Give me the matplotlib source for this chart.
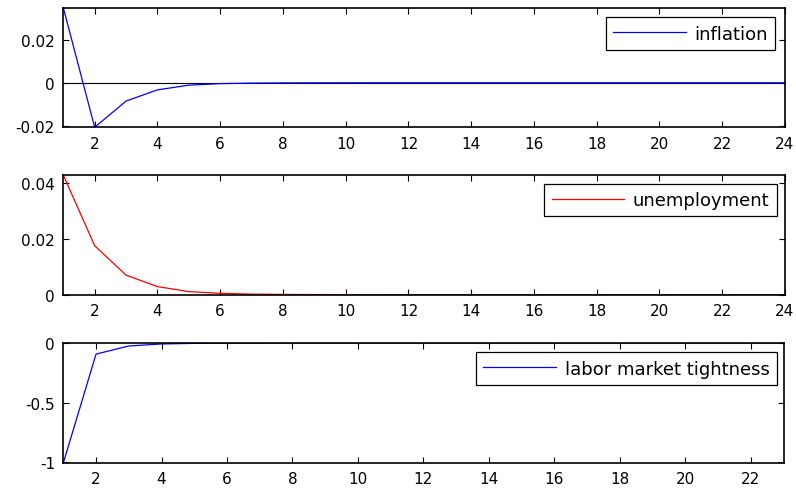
import matplotlib

matplotlib.use("Agg")

import matplotlib.pyplot as plt
import numpy as np

# impulse responses
periods = np.arange(1, 25)
periods_tight = np.arange(1, 24)

inflation = [0.0349, -0.0207, -0.0085, -0.0033, -0.0011, -0.0004, -0.00015, -0.00006,
             -0.00002, -0.00001, 0.0, 0.0, 0.0, 0.0, 0.0, 0.0,
             0.0, 0.0, 0.0, 0.0, 0.0, 0.0, 0.0, 0.0]
unemployment = [0.0428, 0.0175, 0.0070, 0.0029, 0.0011, 0.0005, 0.0002, 0.0001,
                0.00005, 0.00003, 0.00002, 0.00001, 0.00001, 0.00001, 0.00001, 0.00001,
                0.00001, 0.00001, 0.00001, 0.00001, 0.00001, 0.00001, 0.00001, 0.00001]
tightness = [-1.005, -0.093, -0.025, -0.008, -0.003, -0.001, -0.0004, -0.0001,
             -0.00005, -0.00002, -0.00001, 0.0, 0.0, 0.0, 0.0, 0.0,
             0.0, 0.0, 0.0, 0.0, 0.0, 0.0, 0.0]

plt.rcParams["font.family"] = ["DejaVu Sans"]
plt.rcParams["axes.unicode_minus"] = False

W, H = 796, 489
fig = plt.figure(figsize=(W / 100, H / 100), dpi=100)


def make_axes(x0, x1, y0, y1):
    return fig.add_axes([x0 / W, 1 - y1 / H, (x1 - x0) / W, (y1 - y0) / H])


def style(ax, xticks, yticks, yticklabels):
    ax.set_xticks(xticks)
    ax.set_yticks(yticks)
    ax.set_yticklabels(yticklabels)
    ax.tick_params(direction="in", length=4, width=0.8, top=True, right=True,
                   labelsize=11, pad=6, colors="black")
    for sp in ax.spines.values():
        sp.set_linewidth(1.2)
        sp.set_color("black")


def add_legend(ax, anchor):
    leg = ax.legend(loc="upper right", bbox_to_anchor=anchor, borderaxespad=0,
                    fontsize=13, handlelength=4.0, handletextpad=0.5,
                    borderpad=0.4, fancybox=False, framealpha=1,
                    edgecolor="black")
    leg.get_frame().set_linewidth(0.9)


# panel 1: inflation
ax1 = make_axes(63.3, 785, 8.7, 128.3)
ax1.axhline(0, color="black", linewidth=0.8)
ax1.plot(periods, inflation, color="blue", linewidth=0.9, label="inflation")
ax1.set_xlim(1, 24)
ax1.set_ylim(min(inflation), max(inflation))
style(ax1, np.arange(2, 25, 2), [-0.02, 0, 0.02], ["-0.02", "0", "0.02"])
add_legend(ax1, (0.9866, 0.9197))

# panel 2: unemployment
ax2 = make_axes(63.3, 785, 176, 295.7)
ax2.plot(periods, unemployment, color="red", linewidth=0.9, label="unemployment")
ax2.set_xlim(1, 24)
ax2.set_ylim(0, max(unemployment))
style(ax2, np.arange(2, 25, 2), [0, 0.02, 0.04], ["0", "0.02", "0.04"])
add_legend(ax2, (0.9885, 0.925))

# panel 3: labor market tightness
ax3 = make_axes(63.3, 783.5, 344, 464)
ax3.plot(periods_tight, tightness, color="blue", linewidth=0.9,
         label="labor market tightness")
ax3.set_xlim(1, 23)
ax3.set_ylim(min(tightness), 0)
style(ax3, np.arange(2, 23, 2), [-1, -0.5, 0], ["-1", "-0.5", "0"])
add_legend(ax3, (0.9906, 0.9225))

fig.savefig("out.png", dpi=100)
plt.close(fig)
